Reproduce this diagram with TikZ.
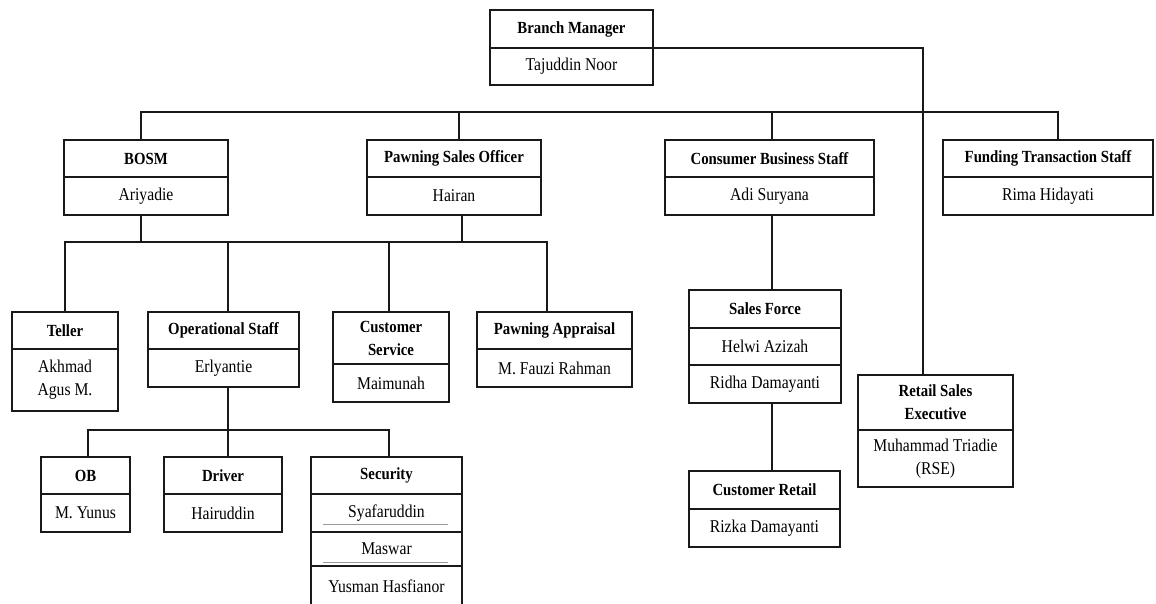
\documentclass[tikz,border=0pt]{standalone}
\usepackage{fontspec}
\setmainfont{Liberation Serif}[FakeStretch=0.87]
\newcommand{\cellbox}[7]{%
  \node[cell,#7,minimum width={#3-#2},minimum height={#5-#4}] (#1) at ({(#2+#3)/2},{(#4+#5)/2}) {#6};}
\tikzset{
  cell/.style={draw=black!90, line width=1.2pt, inner sep=0pt, outer sep=0pt, align=center},
  ttl/.style={font=\fontsize{17}{23}\selectfont\bfseries},
  nme/.style={font=\fontsize{18}{23}\selectfont},
  link/.style={draw=black!90, line width=1.2pt},
  sub/.style={draw=black!40, line width=0.8pt}
}
\begin{document}
\begin{tikzpicture}[x=1pt,y=-1pt]
\fill[white] (0,0) rectangle (1156,603);
\clip (0,0) rectangle (1156,603);
% boxes
\cellbox{bmT}{490}{653}{10}{48}{Branch Manager}{ttl}
\cellbox{bmP}{490}{653}{48}{85}{Tajuddin Noor}{nme}
\cellbox{bosmT}{64}{228}{140}{177}{BOSM}{ttl}
\cellbox{bosmP}{64}{228}{177}{215}{Ariyadie}{nme}
\cellbox{psoT}{367}{541}{140}{177}{Pawning Sales Officer}{ttl}
\cellbox{psoP}{367}{541}{177}{215}{Hairan}{nme}
\cellbox{cbsT}{665}{874}{140}{177}{Consumer Business Staff}{ttl}
\cellbox{cbsP}{665}{874}{177}{215}{Adi Suryana}{nme}
\cellbox{ftsT}{943}{1153}{140}{177}{Funding Transaction Staff}{ttl}
\cellbox{ftsP}{943}{1153}{177}{215}{Rima Hidayati}{nme}
\cellbox{telT}{12}{118}{312}{349}{Teller}{ttl}
\cellbox{telP}{12}{118}{349}{411}{Akhmad\\Agus M.}{nme}
\cellbox{opsT}{148}{299}{312}{349}{Operational Staff}{ttl}
\cellbox{opsP}{148}{299}{349}{387}{Erlyantie}{nme}
\cellbox{csT}{333}{449}{312}{364}{Customer\\Service}{ttl}
\cellbox{csP}{333}{449}{364}{402}{Maimunah}{nme}
\cellbox{paT}{477}{632}{312}{349}{Pawning Appraisal}{ttl}
\cellbox{paP}{477}{632}{349}{387}{M. Fauzi Rahman}{nme}
\cellbox{sfT}{689}{841}{290}{328}{Sales Force}{ttl}
\cellbox{sfA}{689}{841}{328}{365}{Helwi Azizah}{nme}
\cellbox{sfB}{689}{841}{365}{403}{Ridha Damayanti}{nme}
\cellbox{crT}{689}{840}{471}{509}{Customer Retail}{ttl}
\cellbox{crP}{689}{840}{509}{547}{Rizka Damayanti}{nme}
\cellbox{rseT}{858}{1013}{375}{430}{Retail Sales\\Executive}{ttl}
\cellbox{rseP}{858}{1013}{430}{487}{Muhammad Triadie\\(RSE)}{nme}
\cellbox{obT}{41}{130}{457}{494}{OB}{ttl}
\cellbox{obP}{41}{130}{494}{532}{M. Yunus}{nme}
\cellbox{drT}{164}{282}{457}{494}{Driver}{ttl}
\cellbox{drP}{164}{282}{494}{532}{Hairuddin}{nme}
\cellbox{secT}{311}{462}{457}{494}{Security}{ttl}
\cellbox{secA}{311}{462}{494}{532}{Syafaruddin}{nme}
\cellbox{secB}{311}{462}{532}{566}{Maswar}{nme}
\cellbox{secC}{311}{462}{566}{606}{Yusman Hasfianor}{nme}
% thin grey rules under names in Security
\draw[sub] ([xshift=12pt,yshift=8pt]secA.south west) -- ([xshift=-14pt,yshift=8pt]secA.south east);
\draw[sub] ([xshift=12pt,yshift=4pt]secB.south west) -- ([xshift=-14pt,yshift=4pt]secB.south east);
% bus levels
\coordinate (busA) at (0,112);
\coordinate (busB) at (0,242);
\coordinate (busC) at (0,430);
% Branch Manager to Retail Sales Executive
\draw[link] (bmT.south east) -| ([xshift=-12.5pt]rseT.north);
% top bus
\coordinate (inBosm) at ([xshift=-5pt]bosmT.north);
\coordinate (inPso) at ([xshift=5pt]psoT.north);
\coordinate (inCbs) at ([xshift=2.5pt]cbsT.north);
\coordinate (inFts) at ([xshift=10pt]ftsT.north);
\draw[link] (inBosm) -- (inBosm |- busA) -- (inFts |- busA) -- (inFts);
\draw[link] (inPso) -- (inPso |- busA);
\draw[link] (inCbs) -- (inCbs |- busA);
% second bus
\coordinate (outBosm) at ([xshift=-5pt]bosmP.south);
\coordinate (outPso) at ([xshift=8pt]psoP.south);
\coordinate (inTel) at (telT.north);
\coordinate (inOps) at ([xshift=4.5pt]opsT.north);
\coordinate (inCs) at ([xshift=-2pt]csT.north);
\coordinate (inPa) at ([xshift=-7.5pt]paT.north);
\draw[link] (inTel) -- (inTel |- busB) -- (inPa |- busB) -- (inPa);
\draw[link] (outBosm) -- (outBosm |- busB);
\draw[link] (outPso) -- (outPso |- busB);
\draw[link] (inOps) -- (inOps |- busB);
\draw[link] (inCs) -- (inCs |- busB);
% third bus
\coordinate (outOps) at ([xshift=4.5pt]opsP.south);
\coordinate (inOb) at ([xshift=2.5pt]obT.north);
\coordinate (inDr) at ([xshift=5pt]drT.north);
\coordinate (inSec) at ([xshift=2.5pt]secT.north);
\draw[link] (inOb) -- (inOb |- busC) -- (inSec |- busC) -- (inSec);
\draw[link] (outOps) -- (inDr);
% consumer chain
\draw[link] ([xshift=2.5pt]cbsP.south) -- ([xshift=7pt]sfT.north);
\draw[link] ([xshift=7pt]sfB.south) -- ([xshift=7.5pt]crT.north);
\end{tikzpicture}
\end{document}
